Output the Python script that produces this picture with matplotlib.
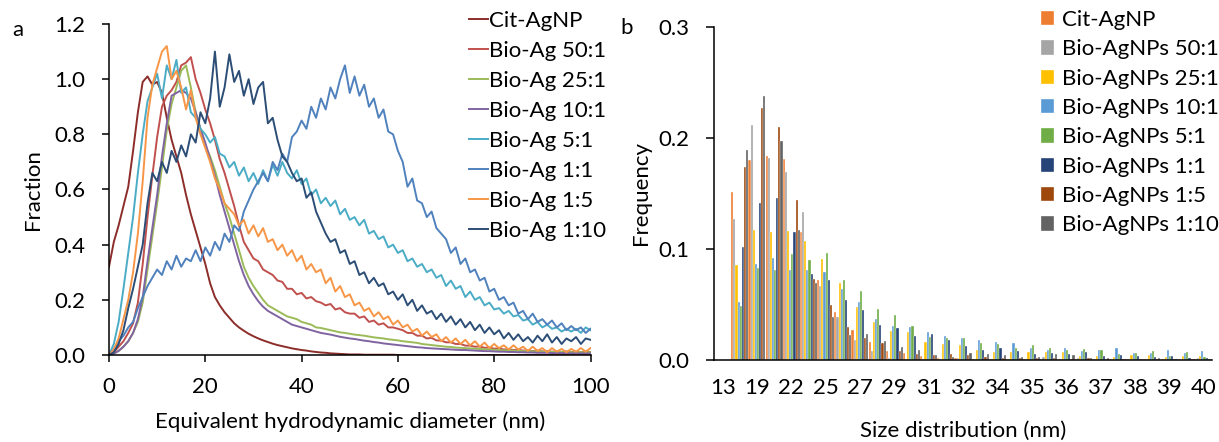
import matplotlib
matplotlib.use('Agg')
import matplotlib.pyplot as plt
import numpy as np

plt.rcParams['font.family'] = ['Lato', 'DejaVu Sans']
plt.rcParams['font.size'] = 16

# ---- panel a : size distributions (fraction vs diameter, 1 nm steps) ----
diameter_nm = list(range(0, 101))

cit_agnp = [0.32, 0.41, 0.47, 0.54, 0.61, 0.74, 0.88, 0.99, 1.01, 0.98,
            0.99, 0.95, 0.86, 0.78, 0.72, 0.66, 0.58, 0.51, 0.45, 0.39,
            0.33, 0.26, 0.21, 0.18, 0.155, 0.135, 0.115, 0.10, 0.088, 0.077,
            0.068, 0.06, 0.053, 0.047, 0.041, 0.036, 0.032, 0.028, 0.024, 0.021,
            0.018, 0.016, 0.013, 0.011, 0.009, 0.008, 0.006, 0.005, 0.004, 0.003,
            0.002, 0.002, 0.002, 0.001, 0.001, 0.001, 0.001, 0.001, 0.001, 0.001,
            0.0, 0.0, 0.0, 0.0, 0.0, 0.0, 0.0, 0.0, 0.0, 0.0,
            0.0, 0.0, 0.0, 0.0, 0.0, 0.0, 0.0, 0.0, 0.0, 0.0,
            0.0, 0.0, 0.0, 0.0, 0.0, 0.0, 0.0, 0.0, 0.0, 0.0,
            0.0, 0.0, 0.0, 0.0, 0.0, 0.0, 0.0, 0.0, 0.0, 0.0,
            0.0]
bio_50_1 = [0.00, 0.01, 0.03, 0.05, 0.08, 0.115, 0.19, 0.33, 0.50, 0.65,
            0.79, 0.90, 0.94, 0.96, 0.99, 1.05, 1.06, 1.08, 1.00, 0.95,
            0.89, 0.84, 0.78, 0.71, 0.66, 0.60, 0.54, 0.47, 0.41, 0.38,
            0.35, 0.34, 0.31, 0.30, 0.29, 0.27, 0.265, 0.24, 0.24, 0.22,
            0.225, 0.205, 0.21, 0.195, 0.19, 0.18, 0.185, 0.165, 0.17, 0.155,
            0.15, 0.15, 0.135, 0.14, 0.12, 0.125, 0.11, 0.115, 0.10, 0.10,
            0.095, 0.09, 0.08, 0.08, 0.07, 0.07, 0.06, 0.062, 0.053, 0.052,
            0.046, 0.046, 0.04, 0.04, 0.034, 0.034, 0.03, 0.031, 0.026, 0.027,
            0.023, 0.024, 0.02, 0.021, 0.018, 0.019, 0.016, 0.017, 0.014, 0.016,
            0.013, 0.014, 0.012, 0.013, 0.011, 0.013, 0.011, 0.012, 0.01, 0.012,
            0.011]
bio_25_1 = [0.00, 0.005, 0.015, 0.03, 0.05, 0.08, 0.12, 0.19, 0.31, 0.43,
            0.55, 0.68, 0.815, 0.91, 0.97, 1.03, 1.05, 0.97, 0.88, 0.82,
            0.76, 0.72, 0.67, 0.61, 0.55, 0.50, 0.44, 0.38, 0.32, 0.28,
            0.25, 0.225, 0.20, 0.18, 0.17, 0.16, 0.15, 0.14, 0.135, 0.13,
            0.12, 0.115, 0.11, 0.10, 0.098, 0.094, 0.09, 0.086, 0.082, 0.08,
            0.077, 0.074, 0.072, 0.07, 0.067, 0.064, 0.062, 0.06, 0.057, 0.055,
            0.053, 0.05, 0.048, 0.046, 0.044, 0.04, 0.038, 0.036, 0.034, 0.032,
            0.03, 0.029, 0.027, 0.026, 0.025, 0.024, 0.023, 0.022, 0.021, 0.02,
            0.019, 0.018, 0.017, 0.017, 0.016, 0.015, 0.014, 0.014, 0.013, 0.013,
            0.012, 0.012, 0.011, 0.011, 0.011, 0.01, 0.01, 0.01, 0.01, 0.01,
            0.01]
bio_10_1 = [0.00, 0.005, 0.015, 0.03, 0.05, 0.08, 0.13, 0.21, 0.34, 0.46,
            0.58, 0.72, 0.84, 0.94, 0.95, 0.96, 0.95, 0.93, 0.88, 0.82,
            0.77, 0.71, 0.65, 0.58, 0.52, 0.46, 0.40, 0.34, 0.29, 0.25,
            0.22, 0.195, 0.175, 0.16, 0.15, 0.14, 0.13, 0.12, 0.11, 0.105,
            0.10, 0.095, 0.09, 0.085, 0.08, 0.077, 0.074, 0.07, 0.066, 0.063,
            0.06, 0.058, 0.055, 0.052, 0.05, 0.047, 0.045, 0.042, 0.04, 0.038,
            0.036, 0.034, 0.032, 0.03, 0.028, 0.027, 0.025, 0.024, 0.023, 0.022,
            0.021, 0.02, 0.019, 0.018, 0.018, 0.017, 0.016, 0.015, 0.014, 0.014,
            0.013, 0.012, 0.012, 0.011, 0.011, 0.01, 0.01, 0.009, 0.009, 0.008,
            0.008, 0.008, 0.007, 0.007, 0.007, 0.007, 0.006, 0.006, 0.006, 0.006,
            0.006]
bio_5_1 = [0.00, 0.04, 0.12, 0.24, 0.37, 0.50, 0.66, 0.80, 0.92, 0.97,
           1.02, 0.93, 1.05, 1.00, 1.07, 0.95, 0.97, 0.88, 0.86, 0.82,
           0.80, 0.77, 0.79, 0.73, 0.72, 0.68, 0.70, 0.65, 0.68, 0.63,
           0.66, 0.62, 0.67, 0.63, 0.69, 0.65, 0.70, 0.66, 0.64, 0.67,
           0.62, 0.64, 0.58, 0.60, 0.55, 0.57, 0.54, 0.56, 0.51, 0.53,
           0.49, 0.50, 0.47, 0.49, 0.44, 0.45, 0.42, 0.43, 0.39, 0.40,
           0.37, 0.38, 0.34, 0.35, 0.32, 0.33, 0.30, 0.31, 0.28, 0.29,
           0.25, 0.27, 0.24, 0.25, 0.21, 0.23, 0.20, 0.21, 0.18, 0.19,
           0.165, 0.17, 0.15, 0.16, 0.14, 0.145, 0.125, 0.13, 0.11, 0.12,
           0.10, 0.11, 0.095, 0.10, 0.085, 0.095, 0.085, 0.095, 0.08, 0.10,
           0.09]
bio_1_1 = [0.00, 0.02, 0.05, 0.07, 0.10, 0.12, 0.17, 0.21, 0.25, 0.28,
           0.31, 0.29, 0.34, 0.31, 0.36, 0.32, 0.35, 0.34, 0.38, 0.34,
           0.39, 0.36, 0.41, 0.38, 0.44, 0.41, 0.47, 0.45, 0.52, 0.56,
           0.60, 0.63, 0.66, 0.63, 0.70, 0.67, 0.73, 0.70, 0.79, 0.81,
           0.85, 0.82, 0.90, 0.86, 0.93, 0.89, 0.97, 0.93, 1.00, 1.05,
           0.95, 1.01, 0.94, 0.98, 0.90, 0.93, 0.86, 0.89, 0.81, 0.80,
           0.74, 0.70, 0.61, 0.64, 0.56, 0.55, 0.50, 0.52, 0.46, 0.44,
           0.42, 0.37, 0.39, 0.33, 0.35, 0.30, 0.31, 0.27, 0.28, 0.23,
           0.24, 0.20, 0.21, 0.18, 0.19, 0.15, 0.16, 0.13, 0.15, 0.12,
           0.13, 0.11, 0.125, 0.10, 0.115, 0.09, 0.105, 0.09, 0.10, 0.08,
           0.095]
bio_1_5 = [0.00, 0.02, 0.06, 0.13, 0.20, 0.30, 0.44, 0.63, 0.86, 0.98,
           1.04, 1.10, 1.12, 1.00, 1.03, 0.97, 0.89, 0.96, 0.86, 0.80,
           0.75, 0.70, 0.64, 0.60, 0.55, 0.53, 0.51, 0.47, 0.49, 0.44,
           0.47, 0.43, 0.46, 0.41, 0.42, 0.38, 0.40, 0.36, 0.38, 0.34,
           0.36, 0.31, 0.33, 0.30, 0.31, 0.26, 0.28, 0.23, 0.25, 0.21,
           0.22, 0.18, 0.19, 0.16, 0.17, 0.14, 0.155, 0.13, 0.14, 0.11,
           0.125, 0.10, 0.11, 0.085, 0.095, 0.07, 0.085, 0.065, 0.075, 0.05,
           0.065, 0.045, 0.06, 0.04, 0.055, 0.035, 0.05, 0.03, 0.045, 0.025,
           0.04, 0.025, 0.035, 0.02, 0.035, 0.02, 0.03, 0.015, 0.03, 0.015,
           0.025, 0.01, 0.025, 0.012, 0.022, 0.01, 0.022, 0.012, 0.025, 0.012,
           0.025]
bio_1_10 = [0.00, 0.01, 0.04, 0.09, 0.17, 0.24, 0.32, 0.40, 0.55, 0.66,
            0.63, 0.70, 0.66, 0.74, 0.70, 0.76, 0.72, 0.80, 0.77, 0.88,
            0.84, 0.93, 1.10, 0.90, 0.97, 1.09, 0.99, 1.03, 0.94, 1.00,
            0.91, 0.97, 0.99, 0.84, 0.86, 0.78, 0.72, 0.70, 0.66, 0.63,
            0.64, 0.57, 0.59, 0.52, 0.48, 0.44, 0.41, 0.42, 0.37, 0.38,
            0.33, 0.34, 0.29, 0.30, 0.26, 0.28, 0.25, 0.26, 0.22, 0.23,
            0.20, 0.22, 0.18, 0.20, 0.16, 0.18, 0.15, 0.16, 0.13, 0.15,
            0.12, 0.14, 0.11, 0.13, 0.10, 0.12, 0.09, 0.11, 0.08, 0.10,
            0.075, 0.09, 0.06, 0.08, 0.055, 0.075, 0.05, 0.065, 0.045, 0.07,
            0.05, 0.075, 0.045, 0.065, 0.04, 0.06, 0.05, 0.065, 0.04, 0.06,
            0.055]

a_names = ['Cit-AgNP', 'Bio-Ag 50:1', 'Bio-Ag 25:1', 'Bio-Ag 10:1',
           'Bio-Ag 5:1', 'Bio-Ag 1:1', 'Bio-Ag 1:5', 'Bio-Ag 1:10']
a_series = [cit_agnp, bio_50_1, bio_25_1, bio_10_1, bio_5_1, bio_1_1, bio_1_5, bio_1_10]
a_colors = ['#8C2D2A', '#C0504D', '#9BBB59', '#8064A2',
            '#4BACC6', '#4F81BD', '#F79646', '#2C4D75']

# ---- panel b : frequency per size class (first class is empty) ----
size_labels = ['13', '19', '22', '25', '27', '29', '31', '32', '34', '35',
               '36', '37', '38', '39', '40']
freq_cit = [0, 0.151, 0.180, 0.184, 0.181, 0.115, 0.072, 0.043, 0.027, 0.016,
            0.008, 0.006, 0.0036, 0.0015, 0.0012, 0.0005, 0.0003, 0.0003, 0.0003, 0.0006,
            0.0003, 0.0009, 0.0003, 0.0003, 0.0003, 0.0003, 0.0003, 0.0003, 0.0009]
freq_50_1 = [0, 0.127, 0.212, 0.182, 0.169, 0.133, 0.066, 0.038, 0.018, 0.008,
             0.001, 0.0006, 0.0003, 0.0008, 0.001, 0.0005, 0.0003, 0.0003, 0.0003, 0.0024,
             0.0003, 0.0018, 0.0003, 0.0003, 0.0003, 0.0003, 0.0003, 0.0003, 0.0012]
freq_25_1 = [0, 0.085, 0.117, 0.115, 0.116, 0.107, 0.091, 0.069, 0.047, 0.034,
             0.026, 0.025, 0.016, 0.014, 0.013, 0.0084, 0.007, 0.007, 0.0066, 0.007,
             0.007, 0.003, 0.003, 0.002, 0.004, 0.004, 0.002, 0.003, 0.003]
freq_10_1 = [0, 0.0515, 0.086, 0.0915, 0.081, 0.081, 0.079, 0.0635, 0.052, 0.0365,
             0.030, 0.029, 0.0247, 0.021, 0.019, 0.0175, 0.016, 0.015, 0.010, 0.0084,
             0.0105, 0.0078, 0.009, 0.010, 0.006, 0.006, 0.009, 0.0057, 0.0075]
freq_5_1 = [0, 0.048, 0.083, 0.081, 0.095, 0.090, 0.096, 0.072, 0.062, 0.0455,
            0.040, 0.030, 0.020, 0.019, 0.019, 0.015, 0.014, 0.0105, 0.0135, 0.0105,
            0.0084, 0.0093, 0.0084, 0.0048, 0.006, 0.0075, 0.0036, 0.0072, 0.0024]
freq_1_1 = [0, 0.1015, 0.1415, 0.1455, 0.115, 0.0774, 0.072, 0.0535, 0.0445, 0.031,
            0.028, 0.0212, 0.0226, 0.018, 0.012, 0.009, 0.010, 0.008, 0.005, 0.0063,
            0.0054, 0.0066, 0.003, 0.0045, 0.003, 0.0024, 0.003, 0.001, 0.0015]
freq_1_5 = [0, 0.174, 0.227, 0.210, 0.144, 0.0723, 0.0488, 0.0295, 0.0197, 0.015,
            0.0078, 0.0053, 0.0042, 0.005, 0.0045, 0.002, 0.001, 0.0012, 0.0015, 0.001,
            0.0006, 0.0012, 0.0003, 0.0006, 0.0003, 0.0003, 0.0003, 0.0003, 0.0006]
freq_1_10 = [0, 0.189, 0.238, 0.197, 0.117, 0.0687, 0.0382, 0.0222, 0.0229, 0.0165,
             0.0115, 0.0088, 0.0045, 0.0024, 0.0057, 0.0054, 0.004, 0.0024, 0.0027, 0.0048,
             0.004, 0.0012, 0.0012, 0.0003, 0.0003, 0.001, 0.0003, 0.0009, 0.0006]

b_names = ['Cit-AgNP', 'Bio-AgNPs 50:1', 'Bio-AgNPs 25:1', 'Bio-AgNPs 10:1',
           'Bio-AgNPs 5:1', 'Bio-AgNPs 1:1', 'Bio-AgNPs 1:5', 'Bio-AgNPs 1:10']
b_series = [freq_cit, freq_50_1, freq_25_1, freq_10_1, freq_5_1, freq_1_1, freq_1_5, freq_1_10]
b_colors = ['#ED7D31', '#A5A5A5', '#FFC000', '#5B9BD5',
            '#70AD47', '#264478', '#9E480E', '#636363']

W, H = 1219, 442
fig = plt.figure(figsize=(W / 100, H / 100), dpi=100)
axa = fig.add_axes([109 / W, (H - 355) / H, 481.5 / W, 331 / H])
axb = fig.add_axes([714 / W, (H - 359.5) / H, 498 / W, 332.2 / H])

# panel a
for name, vals, col in zip(a_names, a_series, a_colors):
    axa.plot(diameter_nm, vals, color=col, lw=1.4, label=name)
axa.set_xlim(0, 100)
axa.set_ylim(0, 1.2)
axa.set_xticks([0, 20, 40, 60, 80, 100])
axa.set_yticks([0.0, 0.2, 0.4, 0.6, 0.8, 1.0, 1.2])
axa.set_yticklabels(['0.0', '0.2', '0.4', '0.6', '0.8', '1.0', '1.2'])
axa.set_xlabel('Equivalent hydrodynamic diameter (nm)', va='top')
axa.set_ylabel('Fraction')
axa.xaxis.set_label_coords(0.5, -0.17)
axa.yaxis.set_label_coords(-0.137, 0.5)
for s in ['top', 'right']:
    axa.spines[s].set_visible(False)
for s in ['left', 'bottom']:
    axa.spines[s].set_linewidth(1.1)
axa.tick_params(axis='x', direction='out', length=5, width=1.1, pad=11)
axa.tick_params(axis='y', direction='out', length=5, width=1.1, pad=12)
axa.legend(loc='upper left', bbox_to_anchor=(469 / W, 1 - 11 / H),
           bbox_transform=fig.transFigure, frameon=False, borderpad=0,
           borderaxespad=0, handlelength=0.85, handletextpad=0.05, labelspacing=0.45)

# panel b
nser = len(b_series)
bw = 0.124
for j, (name, vals, col) in enumerate(zip(b_names, b_series, b_colors)):
    pos = [i + (j - (nser - 1) / 2) * bw for i in range(len(vals))]
    axb.bar(pos, vals, width=bw, color=col, edgecolor='white', linewidth=0.25, label=name)
axb.set_xlim(-0.5, len(freq_cit) - 0.5)
axb.set_ylim(0, 0.3)
axb.set_xticks(list(range(0, len(freq_cit), 2)))
axb.set_xticklabels(size_labels)
axb.set_yticks([0.0, 0.1, 0.2, 0.3])
axb.set_yticklabels(['0.0', '0.1', '0.2', '0.3'])
axb.set_xlabel('Size distribution (nm)', va='top')
axb.set_ylabel('Frequency')
axb.xaxis.set_label_coords(0.5, -0.185)
axb.yaxis.set_label_coords(-0.127, 0.5)
for s in ['top', 'right']:
    axb.spines[s].set_visible(False)
for s in ['left', 'bottom']:
    axb.spines[s].set_linewidth(1.1)
axb.tick_params(axis='x', length=0, pad=13)
axb.tick_params(axis='y', direction='out', length=6, width=1.1, pad=12)
axb.legend(loc='upper left', bbox_to_anchor=(1041 / W, 1 - 10 / H),
           bbox_transform=fig.transFigure, frameon=False, borderpad=0,
           borderaxespad=0, handlelength=0.6, handleheight=0.6,
           handletextpad=0.35, labelspacing=0.42)

fig.text(18 / W, 1 - 30 / H, 'a', ha='center', va='center')
fig.text(627 / W, 1 - 28 / H, 'b', ha='center', va='center')

fig.savefig('out.png', dpi=100)
